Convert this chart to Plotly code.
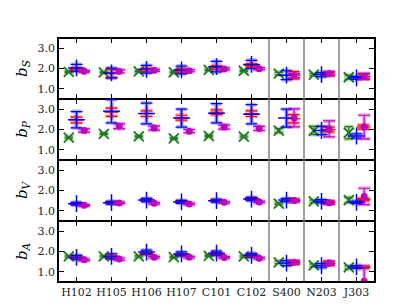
import plotly.graph_objects as go
from plotly.subplots import make_subplots

categories = ["H102", "H105", "H106", "H107", "C101", "C102", "S400", "N203", "J303"]
panel_labels = ["S", "P", "V", "A"]

# b_S
bS_green = [1.83, 1.81, 1.86, 1.81, 1.93, 1.89, 1.75, 1.70, 1.57]
bS_green_err = [0.03, 0.03, 0.03, 0.03, 0.03, 0.03, 0.06, 0.05, 0.10]
bS_blue = [2.03, 1.78, 1.96, 1.93, 2.09, 2.20, 1.67, 1.70, 1.54]
bS_blue_err = [0.17, 0.24, 0.19, 0.19, 0.26, 0.20, 0.22, 0.10, 0.07]
bS_red = [1.98, 1.75, 1.93, 1.90, 2.05, 2.15, 1.67, 1.73, 1.60]
bS_red_err = [0.06, 0.20, 0.08, 0.08, 0.08, 0.08, 0.18, 0.08, 0.12]
bS_mag = [1.86, 1.86, 1.91, 1.89, 1.98, 1.99, 1.65, 1.75, 1.62]
bS_mag_err = [0.04, 0.07, 0.05, 0.05, 0.05, 0.05, 0.10, 0.10, 0.14]

# b_P
bP_green = [1.60, 1.79, 1.66, 1.56, 1.68, 1.65, 1.95, 1.95, 1.84]
bP_green_err = [0.03, 0.03, 0.03, 0.03, 0.03, 0.03, 0.10, 0.20, 0.30]
bP_blue = [2.48, 2.90, 2.79, 2.56, 2.80, 2.75, 2.56, 1.95, 1.68]
bP_blue_err = [0.40, 0.57, 0.51, 0.44, 0.47, 0.47, 0.44, 0.20, 0.10]
bP_red = [2.47, 2.85, 2.78, 2.58, 2.85, 2.78, 2.53, 2.00, 2.12]
bP_red_err = [0.14, 0.20, 0.14, 0.12, 0.12, 0.14, 0.20, 0.12, 0.10]
bP_mag = [1.95, 2.16, 2.07, 1.92, 2.12, 2.05, 2.57, 2.03, 2.12]
bP_mag_err = [0.08, 0.12, 0.10, 0.08, 0.10, 0.10, 0.44, 0.39, 0.58]

# b_V
bV_green = [None, None, None, None, None, None, 1.35, 1.47, 1.53]
bV_green_err = [0, 0, 0, 0, 0, 0, 0.04, 0.06, 0.13]
bV_blue = [1.35, 1.40, 1.53, 1.44, 1.50, 1.58, 1.53, 1.47, 1.42]
bV_blue_err = [0.07, 0.07, 0.08, 0.07, 0.07, 0.08, 0.08, 0.08, 0.06]
bV_red = [1.35, 1.40, 1.53, 1.44, 1.50, 1.60, 1.51, 1.42, 1.55]
bV_red_err = [0.04, 0.04, 0.04, 0.04, 0.04, 0.04, 0.06, 0.06, 0.06]
bV_mag = [1.27, 1.39, 1.37, 1.34, 1.42, 1.44, 1.51, 1.40, 1.71]
bV_mag_err = [0.04, 0.04, 0.04, 0.04, 0.04, 0.04, 0.06, 0.08, 0.40]

# b_A
bA_green = [1.76, 1.76, 1.76, 1.72, 1.79, 1.76, 1.47, 1.32, 1.22]
bA_green_err = [0.03, 0.03, 0.03, 0.03, 0.03, 0.03, 0.06, 0.06, 0.07]
bA_blue = [1.71, 1.76, 1.97, 1.88, 1.92, 1.81, 1.43, 1.30, 1.24]
bA_blue_err = [0.10, 0.12, 0.10, 0.10, 0.10, 0.10, 0.12, 0.10, 0.07]
bA_red = [1.73, 1.74, 1.90, 1.85, 1.88, 1.80, 1.45, 1.40, 1.22]
bA_red_err = [0.05, 0.05, 0.05, 0.05, 0.05, 0.05, 0.08, 0.08, 0.05]
bA_mag = [1.59, 1.63, 1.72, 1.72, 1.71, 1.67, 1.47, 1.43, 0.54]
bA_mag_err = [0.04, 0.05, 0.04, 0.04, 0.04, 0.04, 0.08, 0.10, 0.73]

panels = [
    (bS_green, bS_green_err, bS_blue, bS_blue_err, bS_red, bS_red_err, bS_mag, bS_mag_err),
    (bP_green, bP_green_err, bP_blue, bP_blue_err, bP_red, bP_red_err, bP_mag, bP_mag_err),
    (bV_green, bV_green_err, bV_blue, bV_blue_err, bV_red, bV_red_err, bV_mag, bV_mag_err),
    (bA_green, bA_green_err, bA_blue, bA_blue_err, bA_red, bA_red_err, bA_mag, bA_mag_err),
]

GREEN = "#1f7a1f"
BLUE = "#0000ff"
RED = "#ff0000"
MAG = "#bf00bf"
FONT = "DejaVu Serif"

fig = make_subplots(rows=4, cols=1, shared_xaxes=True, vertical_spacing=0)

idx = list(range(len(categories)))
xg = [i - 0.22 for i in idx]
xb = [i for i in idx]
xr = [i if i < 6 else i + 0.2 for i in idx]
xm = [i + 0.22 for i in idx]


def err_trace(x, y, e, color, marker, pale, cap):
    return go.Scatter(
        x=x, y=y, mode="markers", marker=marker, showlegend=False, hoverinfo="skip",
        error_y=dict(type="data", array=e, color=pale if pale else color,
                     thickness=4 if pale else 1.2, width=cap),
    )


for r, (g, ge, b, be, rd, rde, m, me) in enumerate(panels, start=1):
    def none(c):
        return dict(size=1, opacity=0, color=c)
    # pale bands
    fig.add_trace(err_trace(xg, g, ge, GREEN, none(GREEN), "rgba(0,128,0,0.3)", 5), row=r, col=1)
    fig.add_trace(err_trace(xb, b, be, BLUE, none(BLUE), "rgba(0,0,255,0.3)", 5), row=r, col=1)
    fig.add_trace(err_trace(xr, rd, rde, RED, none(RED), "rgba(255,0,0,0.3)", 6), row=r, col=1)
    fig.add_trace(err_trace(xm, m, me, MAG, none(MAG), "rgba(191,0,191,0.3)", 6), row=r, col=1)
    # solid
    fig.add_trace(err_trace(xg, g, ge, GREEN,
                            dict(symbol="x-thin-open", size=10, color=GREEN,
                                 line=dict(color=GREEN, width=1.8)),
                            None, 4), row=r, col=1)
    fig.add_trace(err_trace(xr, rd, rde, RED,
                            dict(symbol="line-ew-open", size=10, color=RED,
                                 line=dict(color=RED, width=1.2)),
                            None, 6), row=r, col=1)
    fig.add_trace(err_trace(xb, b, be, BLUE,
                            dict(symbol="cross-thin-open", size=12, color=BLUE,
                                 line=dict(color=BLUE, width=1.5)),
                            None, 6), row=r, col=1)
    fig.add_trace(err_trace(xm, m, me, MAG,
                            dict(symbol="circle", size=7, color=MAG, line=dict(width=0)),
                            None, 6), row=r, col=1)

    fig.update_yaxes(
        row=r, col=1, range=[0.5, 3.5], tickvals=[1, 2, 3], ticktext=["1.0", "2.0", "3.0"],
        ticks="inside", ticklen=5, tickcolor="black", showline=True, linecolor="black",
        linewidth=1.5, mirror="ticks", showgrid=False, zeroline=False,
        tickfont=dict(family=FONT, size=11, color="#222"),
        title=dict(text="<i>b</i><sub><i>%s</i></sub>" % panel_labels[r - 1],
                   font=dict(family=FONT, size=15, color="black"), standoff=6),
    )
    fig.update_xaxes(
        row=r, col=1, range=[-0.5, 8.5], tickvals=idx, ticktext=categories,
        ticks="inside", ticklen=5, tickcolor="black", showline=True, linecolor="black",
        linewidth=1, mirror="ticks", showgrid=False, zeroline=False,
        tickfont=dict(family=FONT, size=11, color="#222"), tickangle=0,
        showticklabels=(r == 4),
    )

for xv in [5.5, 6.5, 7.5]:
    fig.add_shape(type="line", x0=xv, x1=xv, y0=0, y1=1, xref="x4", yref="paper",
                  line=dict(color="#808080", width=1.5), layer="above")

for yv in [0, 1]:
    fig.add_shape(type="line", x0=0, x1=1, y0=yv, y1=yv, xref="paper", yref="paper",
                  line=dict(color="black", width=2), layer="above")

fig.update_layout(
    width=407, height=305, margin=dict(l=51, r=41, t=30, b=31),
    plot_bgcolor="white", paper_bgcolor="white", showlegend=False,
)

fig.write_html("out.html")
